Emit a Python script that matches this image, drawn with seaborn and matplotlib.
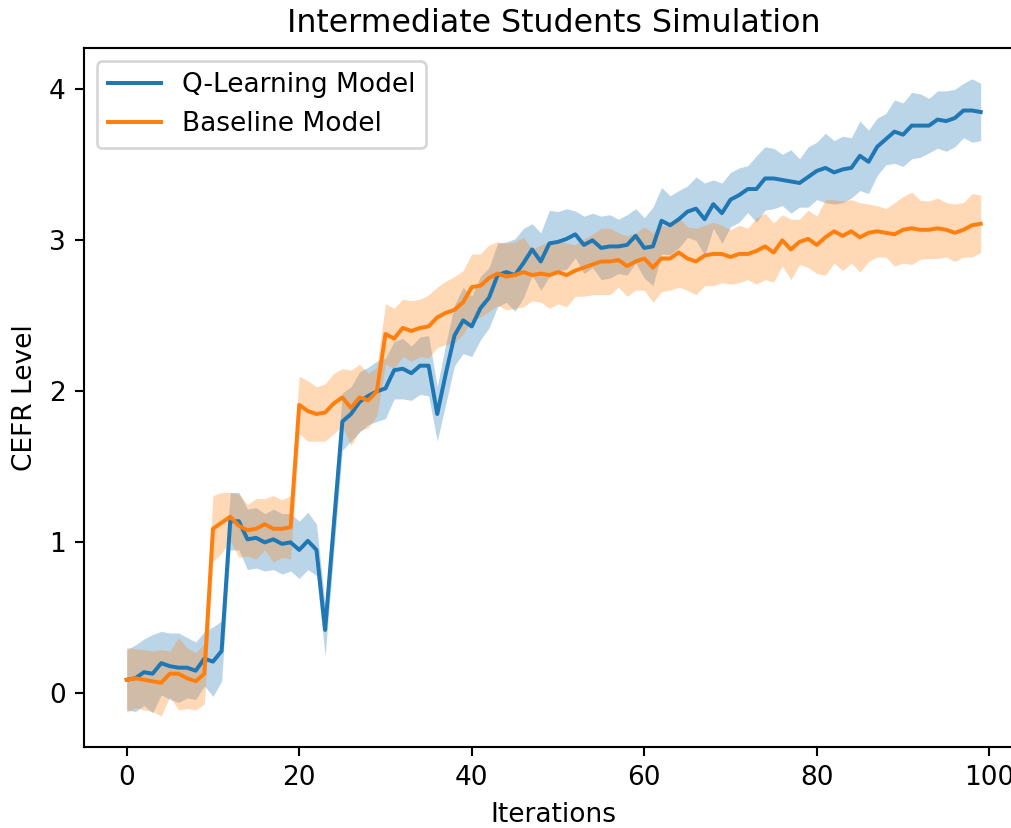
import numpy as np
import pandas as pd
import matplotlib
matplotlib.use("Agg")
import matplotlib.pyplot as plt
import seaborn as sns

iterations = list(range(100))

q_learning_mean = [
    0.09, 0.10, 0.14, 0.13, 0.20, 0.18, 0.17, 0.17, 0.15, 0.23, 0.21, 0.28,
    1.14, 1.14, 1.02, 1.03, 1.00, 1.02, 0.99, 1.00, 0.95, 1.01, 0.95,
    0.42, 1.11,
    1.80, 1.85, 1.93, 1.97, 2.00, 2.02, 2.14, 2.15, 2.12, 2.17, 2.17, 1.85, 2.12, 2.37, 2.47, 2.43, 2.55,
    2.62, 2.77, 2.79, 2.77, 2.85, 2.94, 2.86, 2.98, 2.99, 3.01, 3.04, 2.97, 3.00, 2.95, 2.96, 2.96, 2.97,
    3.03, 2.95, 2.96, 3.13, 3.10, 3.14, 3.19, 3.21, 3.14, 3.24, 3.18,
    3.27, 3.30, 3.34, 3.34, 3.41, 3.41, 3.40, 3.39, 3.38, 3.42, 3.46, 3.48, 3.45, 3.47, 3.48, 3.56, 3.52,
    3.62, 3.67, 3.72, 3.70, 3.76, 3.76, 3.76, 3.80, 3.79, 3.81, 3.86, 3.86, 3.85,
]

q_learning_err = [
    0.20, 0.22, 0.22, 0.26, 0.21, 0.22, 0.23, 0.20, 0.19, 0.18, 0.23, 0.20,
    0.19, 0.19, 0.20, 0.20, 0.19, 0.20, 0.20, 0.19, 0.19, 0.19, 0.17,
    0.17, 0.18, 0.19, 0.18, 0.20, 0.19, 0.20, 0.20, 0.19, 0.20, 0.18, 0.19,
    0.20, 0.18, 0.20, 0.20, 0.22, 0.20, 0.21, 0.20, 0.21, 0.20,
    0.24, 0.23, 0.17, 0.19, 0.22, 0.20, 0.20, 0.155, 0.19, 0.18, 0.21, 0.21,
    0.18, 0.20, 0.18, 0.20, 0.26, 0.22, 0.195, 0.19, 0.17, 0.21, 0.24, 0.16,
    0.20, 0.18, 0.18, 0.155, 0.22, 0.21, 0.20, 0.17, 0.21, 0.16, 0.20, 0.19,
    0.23, 0.21, 0.22, 0.20, 0.23, 0.21, 0.19, 0.17, 0.21, 0.21, 0.22, 0.21,
    0.18, 0.19, 0.20, 0.19, 0.18, 0.21, 0.19,
]

baseline_mean = [
    0.09, 0.10, 0.09, 0.08, 0.07, 0.13, 0.13, 0.10, 0.08, 0.13,
    1.09, 1.13, 1.17, 1.11, 1.08, 1.09, 1.12, 1.09, 1.09, 1.10,
    1.91, 1.87, 1.85, 1.86, 1.92, 1.96, 1.89, 1.96, 1.94, 2.00,
    2.38, 2.35, 2.42, 2.40, 2.42, 2.43, 2.49, 2.52, 2.54, 2.59, 2.69, 2.70, 2.75, 2.78, 2.76, 2.77,
    2.79, 2.77, 2.78, 2.77, 2.79, 2.77, 2.80, 2.82, 2.84, 2.86, 2.86, 2.87, 2.83, 2.86,
    2.88, 2.82, 2.88, 2.88, 2.92, 2.88, 2.86, 2.90, 2.91, 2.91, 2.89, 2.91, 2.91, 2.93, 2.96, 2.92,
    3.00, 2.94, 2.99, 3.01, 2.97, 3.02, 3.06, 3.03, 3.06, 3.02, 3.05, 3.06, 3.05, 3.04,
    3.07, 3.08, 3.07, 3.07, 3.08, 3.07, 3.05, 3.07, 3.10, 3.11,
]

baseline_err = [
    0.215, 0.195, 0.20, 0.20, 0.22, 0.15, 0.24, 0.20, 0.19, 0.20,
    0.22, 0.20, 0.16, 0.21, 0.17, 0.20, 0.17, 0.22, 0.19, 0.21,
    0.19, 0.20, 0.18, 0.19, 0.20, 0.19, 0.25, 0.22, 0.18, 0.16,
    0.20, 0.20, 0.19, 0.20, 0.19, 0.21, 0.20, 0.21, 0.22, 0.21, 0.22, 0.21, 0.22,
    0.21, 0.22, 0.22, 0.23, 0.17, 0.19, 0.22, 0.21, 0.21, 0.17, 0.19, 0.20, 0.22,
    0.22, 0.18, 0.20, 0.19, 0.21, 0.23, 0.22, 0.21, 0.23, 0.21, 0.22, 0.20, 0.21,
    0.19, 0.18, 0.19, 0.17, 0.22, 0.22, 0.195, 0.17, 0.20, 0.15, 0.19, 0.19,
    0.25, 0.21, 0.23, 0.21, 0.23, 0.19, 0.17, 0.16, 0.21, 0.22, 0.24, 0.195,
    0.19, 0.20, 0.18, 0.19, 0.18, 0.21, 0.19,
]

series_labels = ["Q-Learning Model", "Baseline Model"]
series_colors = ["#1f77b4", "#ff7f0e"]

W, H, DPI = 1012, 828, 190
fig = plt.figure(figsize=(W / DPI, H / DPI), dpi=DPI)
left_px, right_px, top_px, bottom_px = 84, 1023.4, 48.3, 746.5
ax = fig.add_axes([left_px / W, 1 - bottom_px / H,
                   (right_px - left_px) / W, (bottom_px - top_px) / H])

x = np.array(iterations)
for mean, err, lab, col in [
    (q_learning_mean, q_learning_err, series_labels[0], series_colors[0]),
    (baseline_mean, baseline_err, series_labels[1], series_colors[1]),
]:
    m = np.array(mean)
    e = np.array(err)
    df = pd.DataFrame({"Iterations": x, "CEFR Level": m})
    sns.lineplot(data=df, x="Iterations", y="CEFR Level", ax=ax,
                 color=col, label=lab, linewidth=1.5)
    ax.fill_between(x, m - e, m + e, color=col, alpha=0.3,
                    linewidth=0, zorder=1)

ax.set_xlim(-4.95, 103.95)
ax.set_ylim(-0.352, 4.272)
ax.set_xticks([0, 20, 40, 60, 80, 100])
ax.set_yticks([0, 1, 2, 3, 4])
ax.set_title("Intermediate Students Simulation", fontsize=12)
ax.set_xlabel("Iterations", fontsize=10)
ax.set_ylabel("CEFR Level", fontsize=10)
ax.tick_params(labelsize=10)
ax.legend(loc="upper left", fontsize=10)

fig.savefig("out.png", dpi=DPI)
